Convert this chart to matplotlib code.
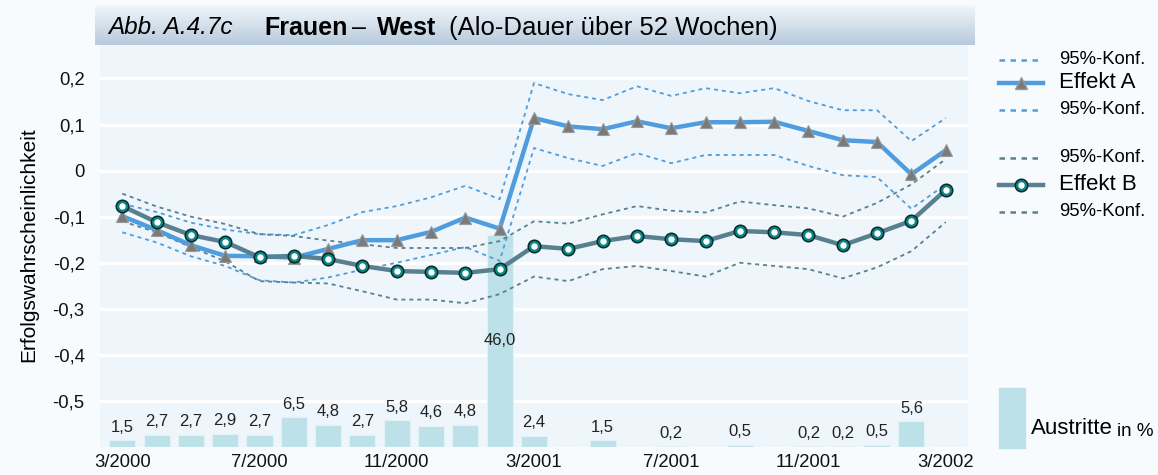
import matplotlib.pyplot as plt
import numpy as np
from matplotlib.lines import Line2D
from matplotlib.patches import Rectangle
from matplotlib.colors import LinearSegmentedColormap
from matplotlib.ticker import FuncFormatter

plt.rcParams['font.family'] = ['Liberation Sans', 'DejaVu Sans']

# -------------------------------
# Daten
# -------------------------------
monate = ["3/2000", "4/2000", "5/2000", "6/2000", "7/2000", "8/2000", "9/2000",
          "10/2000", "11/2000", "12/2000", "1/2001", "2/2001", "3/2001", "4/2001",
          "5/2001", "6/2001", "7/2001", "8/2001", "9/2001", "10/2001", "11/2001",
          "12/2001", "1/2002", "2/2002", "3/2002"]

effekt_a = [-0.099, -0.129, -0.162, -0.185, -0.186, -0.189, -0.170, -0.151, -0.151,
            -0.133, -0.102, -0.126, 0.114, 0.096, 0.090, 0.107, 0.092, 0.105, 0.105,
            0.106, 0.086, 0.066, 0.062, -0.008, 0.044]
effekt_a_hi = [-0.072, -0.090, -0.113, -0.128, -0.138, -0.140, -0.118, -0.090, -0.077,
               -0.058, -0.033, -0.062, 0.190, 0.166, 0.153, 0.183, 0.162, 0.179, 0.168,
               0.179, 0.151, 0.131, 0.131, 0.064, 0.114]
effekt_a_lo = [-0.134, -0.156, -0.186, -0.207, -0.238, -0.243, -0.232, -0.215, -0.200,
               -0.183, -0.166, -0.196, 0.049, 0.027, 0.010, 0.038, 0.016, 0.034, 0.034,
               0.034, 0.010, -0.010, -0.014, -0.083, -0.030]

effekt_b = [-0.077, -0.112, -0.140, -0.155, -0.188, -0.185, -0.192, -0.207, -0.218,
            -0.220, -0.222, -0.214, -0.164, -0.170, -0.153, -0.142, -0.149, -0.153,
            -0.131, -0.134, -0.140, -0.162, -0.136, -0.109, -0.042]
effekt_b_hi = [-0.050, -0.078, -0.100, -0.116, -0.138, -0.142, -0.152, -0.160, -0.168,
               -0.168, -0.168, -0.153, -0.110, -0.115, -0.095, -0.077, -0.087, -0.091,
               -0.067, -0.075, -0.082, -0.100, -0.070, -0.030, 0.025]
effekt_b_lo = [-0.110, -0.134, -0.166, -0.197, -0.240, -0.243, -0.245, -0.262, -0.280,
               -0.280, -0.288, -0.268, -0.230, -0.240, -0.214, -0.207, -0.218, -0.230,
               -0.200, -0.207, -0.214, -0.234, -0.210, -0.175, -0.112]

# Austritte in %
austritte = [1.5, 2.7, 2.7, 2.9, 2.7, 6.5, 4.8, 2.7, 5.8, 4.6, 4.8, 46.0, 2.4, 0.0,
             1.5, 0.0, 0.2, 0.0, 0.5, 0.0, 0.2, 0.2, 0.5, 5.6, 0.1]
austritte_labels = ["1,5", "2,7", "2,7", "2,9", "2,7", "6,5", "4,8", "2,7", "5,8", "4,6",
                    "4,8", "46,0", "2,4", "", "1,5", "", "0,2", "", "0,5", "", "0,2",
                    "0,2", "0,5", "5,6", ""]

x_ticks_idx = [0, 4, 8, 12, 16, 20, 24]
y_ticks = [-0.5, -0.4, -0.3, -0.2, -0.1, 0.0, 0.1, 0.2]

# Balken: Basis bei -0,6, 1 % = 0,01 Einheiten
BAR_BASE = -0.6
PCT_TO_Y = 0.01

# -------------------------------
# Farben
# -------------------------------
c_a = "#4f9ddf"
c_b = "#58808f"
c_bar = "#bde1e8"
bg_fig = "#f8fbfe"
bg_ax = "#eef6fb"

W, H = 1158, 475
fig = plt.figure(figsize=(W / 100, H / 100), dpi=100, facecolor=bg_fig)
ax = fig.add_axes([100 / W, 1 - 447 / H, 868 / W, 404 / H])
ax.set_facecolor(bg_ax)

x = np.arange(len(monate))

# Gitter
for yv in y_ticks:
    ax.axhline(yv, color="white", lw=2.4, zorder=0.5)

# Balken
ax.bar(x, np.array(austritte) * PCT_TO_Y, bottom=BAR_BASE, width=0.76,
       color=c_bar, edgecolor="#e4f2f6", linewidth=0.8, zorder=1)
for xi, v, lab in zip(x, austritte, austritte_labels):
    if not lab:
        continue
    if v > 20:
        ax.text(xi, -0.368, lab, ha="center", va="center", fontsize=12, color="#222222", zorder=6)
    else:
        ax.annotate(lab, (xi, BAR_BASE + v * PCT_TO_Y), xytext=(0, 4),
                    textcoords="offset points", ha="center", va="bottom",
                    fontsize=12, color="#222222", zorder=6)

# Konfidenzbänder
dash = (0, (2.2, 2.2))
ax.plot(x, effekt_a_hi, color=c_a, lw=1.3, linestyle=dash, zorder=2)
ax.plot(x, effekt_a_lo, color=c_a, lw=1.3, linestyle=dash, zorder=2)
ax.plot(x, effekt_b_hi, color=c_b, lw=1.3, linestyle=dash, zorder=2)
ax.plot(x, effekt_b_lo, color=c_b, lw=1.3, linestyle=dash, zorder=2)

# Effekte
ax.plot(x, effekt_a, color=c_a, lw=3.2, zorder=3, marker="^", markersize=9,
        markerfacecolor="#7a7a7a", markeredgecolor="#9a9a9a", markeredgewidth=0.8)
ax.plot(x, effekt_b, color=c_b, lw=3.2, zorder=4, marker="o", markersize=9,
        markerfacecolor="#0b8585", markeredgecolor="#062b2b", markeredgewidth=1.1)
ax.plot(x, effekt_b, linestyle="none", marker="o", markersize=3.6,
        markerfacecolor="white", markeredgecolor="white", zorder=5)

ax.set_xlim(-0.65, 24.65)
ax.set_ylim(-0.6, 0.277)
ax.set_xticks(x_ticks_idx)
ax.set_xticklabels([monate[i] for i in x_ticks_idx])
ax.set_yticks(y_ticks)
ax.yaxis.set_major_formatter(FuncFormatter(
    lambda v, p: "0" if abs(v) < 1e-9 else f"{v:.1f}".replace(".", ",")))
ax.tick_params(axis="both", length=0, labelsize=13.3, colors="#111111")
ax.tick_params(axis="x", pad=5)
ax.tick_params(axis="y", pad=11)
ax.set_ylabel("Erfolgswahrscheinlichkeit", fontsize=15, labelpad=10)
for s in ax.spines.values():
    s.set_visible(False)

# -------------------------------
# Titelbalken
# -------------------------------
tax = fig.add_axes([95 / W, 1 - 45 / H, 880 / W, 40 / H])
grad = np.linspace(0, 1, 100).reshape(-1, 1)
tax.imshow(grad, aspect="auto", cmap=LinearSegmentedColormap.from_list(
    "banner", ["#f2f7fb", "#b7cadb"]), extent=[0, 1, 0, 1], origin="upper")
tax.set_axis_off()

ty = 1 - 28 / H
fig.text(108 / W, ty, "Abb. A.4.7c", fontsize=17.5, style="italic", va="center")
fig.text(264 / W, ty, "Frauen", fontsize=18, weight="bold", va="center")
fig.text(352 / W, ty, "–", fontsize=18, va="center")
fig.text(377 / W, ty, "West", fontsize=18, weight="bold", va="center")
fig.text(449 / W, ty, "(Alo-Dauer über 52 Wochen)", fontsize=18.5, va="center")

# -------------------------------
# Legende
# -------------------------------
leg_items = [
    (60, c_a, dash, 1.8, None, "95%-Konf.", 13.3),
    (83, c_a, "-", 3.2, "^", "Effekt A", 16),
    (110, c_a, dash, 1.8, None, "95%-Konf.", 13.3),
    (158, c_b, dash, 1.8, None, "95%-Konf.", 13.3),
    (185, c_b, "-", 3.2, "o", "Effekt B", 16),
    (212, c_b, dash, 1.8, None, "95%-Konf.", 13.3),
]
for yy, col, ls, lw, mk, txt, fs in leg_items:
    yf = 1 - yy / H
    fig.add_artist(Line2D([999 / W, 1043 / W], [yf, yf], color=col, lw=lw, linestyle=ls))
    if mk == "^":
        fig.add_artist(Line2D([1021 / W], [yf], marker="^", markersize=9,
                              markerfacecolor="#7a7a7a", markeredgecolor="#9a9a9a"))
    elif mk == "o":
        fig.add_artist(Line2D([1021 / W], [yf], marker="o", markersize=9,
                              markerfacecolor="#0b8585", markeredgecolor="#062b2b",
                              markeredgewidth=1.1))
        fig.add_artist(Line2D([1021 / W], [yf], marker="o", markersize=3.6,
                              markerfacecolor="white", markeredgecolor="white"))
    fig.text(1059 / W, yf, txt, fontsize=fs, va="center")

fig.add_artist(Rectangle((999 / W, 1 - 448 / H), 26 / W, 60 / H,
                         transform=fig.transFigure, color=c_bar))
fig.text(1031 / W, 1 - 428 / H, "Austritte", fontsize=16, va="center")
fig.text(1117 / W, 1 - 432 / H, "in %", fontsize=13.5, va="center")

fig.savefig("out.png", dpi=100, facecolor=bg_fig)
